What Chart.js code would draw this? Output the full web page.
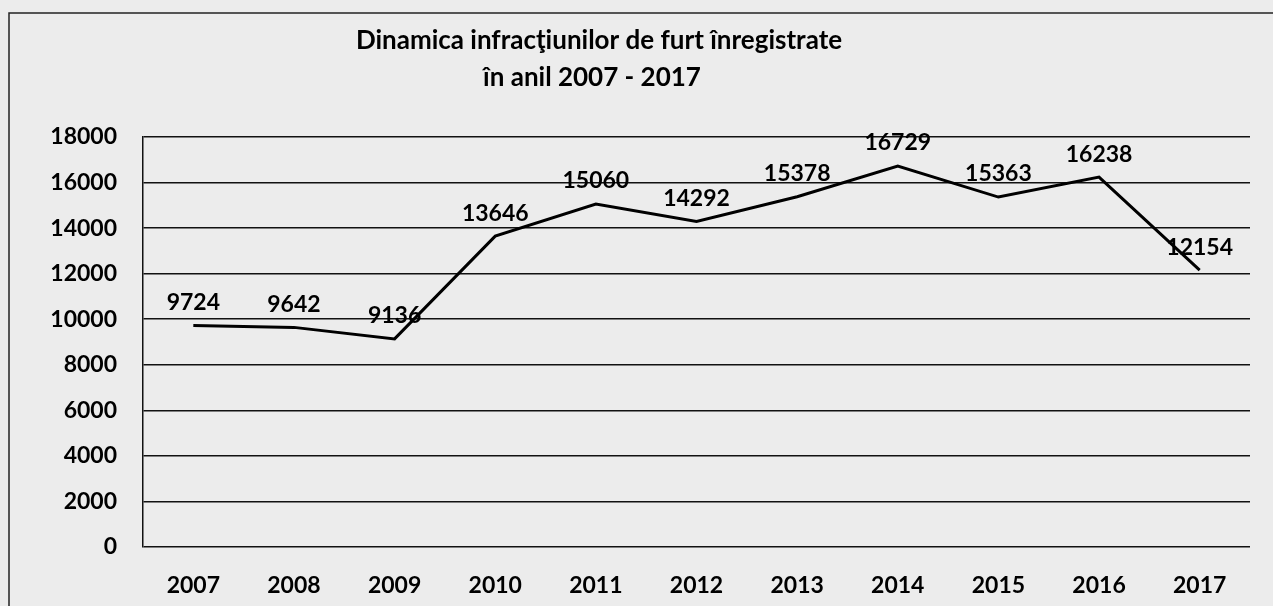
<!DOCTYPE html>
<html>
<head>
<meta charset="utf-8">
<script src="https://cdn.jsdelivr.net/npm/chart.js@4"></script>
<style>
  html, body { margin: 0; padding: 0; background: #ececec; }
  #wrap { position: relative; width: 1273px; height: 606px; }
</style>
</head>
<body>
<div id="wrap"><canvas id="c" width="1273" height="606"></canvas></div>
<script>
const titleLines = ["Dinamica infracţiunilor de furt înregistrate", "în anil 2007 - 2017"];
const years = ["2007", "2008", "2009", "2010", "2011", "2012", "2013", "2014", "2015", "2016", "2017"];
const thefts = [9724, 9642, 9136, 13646, 15060, 14292, 15378, 16729, 15363, 16238, 12154];
const yMin = 0;
const yMax = 18000;
const yStep = 2000;

const FONT = "Lato, 'Open Sans', sans-serif";

const frameAndTitle = {
  id: 'frameAndTitle',
  beforeDraw(chart) {
    const ctx = chart.ctx;
    ctx.save();
    ctx.fillStyle = '#ececec';
    ctx.fillRect(0, 0, chart.width, chart.height);
    ctx.strokeStyle = '#222';
    ctx.lineWidth = 1.5;
    ctx.beginPath();
    ctx.moveTo(9, chart.height + 5);
    ctx.lineTo(9, 13);
    ctx.lineTo(chart.width + 5, 13);
    ctx.stroke();
    ctx.restore();
  },
  afterDraw(chart) {
    const ctx = chart.ctx;
    ctx.save();
    ctx.fillStyle = '#000';
    ctx.font = "bold 26px " + FONT;
    ctx.textAlign = 'center';
    ctx.textBaseline = 'middle';
    ctx.fillText(titleLines[0], 599, 41);
    ctx.fillText(titleLines[1], 592, 78);
    ctx.restore();
  }
};

const valueLabels = {
  id: 'valueLabels',
  afterDatasetsDraw(chart) {
    const ctx = chart.ctx;
    const meta = chart.getDatasetMeta(0);
    const data = chart.data.datasets[0].data;
    ctx.save();
    ctx.fillStyle = '#000';
    ctx.font = "bold 23px " + FONT;
    ctx.textAlign = 'center';
    ctx.textBaseline = 'middle';
    meta.data.forEach((pt, i) => {
      ctx.fillText(String(data[i]), pt.x, pt.y - 23);
    });
    ctx.restore();
  }
};

new Chart(document.getElementById('c'), {
  type: 'line',
  data: {
    labels: years,
    datasets: [{
      data: thefts,
      borderColor: '#000',
      borderWidth: 3,
      pointRadius: 0,
      tension: 0,
      fill: false
    }]
  },
  options: {
    responsive: false,
    animation: false,
    layout: { padding: { left: 0, right: 23, top: 137, bottom: 0 } },
    plugins: {
      legend: { display: false },
      title: { display: false },
      tooltip: { enabled: false }
    },
    scales: {
      x: {
        offset: true,
        grid: { display: false, drawTicks: false },
        border: { display: false },
        ticks: {
          color: '#000',
          font: { family: FONT, size: 23, weight: 'bold' },
          padding: 25,
          maxRotation: 0
        },
        afterFit(scale) { scale.height = 59; }
      },
      y: {
        min: yMin,
        max: yMax,
        grid: { color: '#111', lineWidth: 1.5, drawTicks: false },
        border: { display: true, color: '#111', width: 1.5 },
        ticks: {
          stepSize: yStep,
          color: '#000',
          font: { family: FONT, size: 23, weight: 'bold' },
          padding: 26,
          callback: (v) => String(v)
        },
        afterFit(scale) { scale.width = 143; }
      }
    }
  },
  plugins: [frameAndTitle, valueLabels]
});
</script>
</body>
</html>
